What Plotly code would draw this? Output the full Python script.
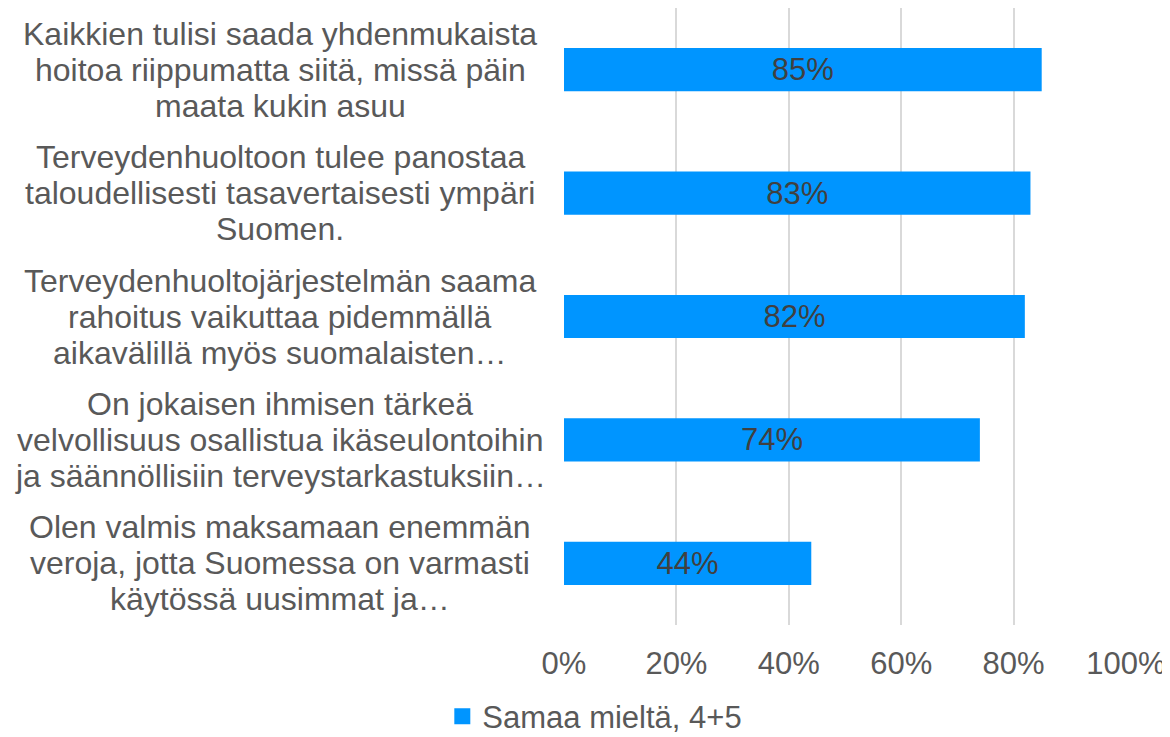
import plotly.graph_objects as go

categories = [
    "Kaikkien tulisi saada yhdenmukaista<br>hoitoa riippumatta siitä, missä päin<br>maata kukin asuu",
    "Terveydenhuoltoon tulee panostaa<br>taloudellisesti tasavertaisesti ympäri<br>Suomen.",
    "Terveydenhuoltojärjestelmän saama<br>rahoitus vaikuttaa pidemmällä<br>aikavälillä myös suomalaisten…",
    "On jokaisen ihmisen tärkeä<br>velvollisuus osallistua ikäseulontoihin<br>ja säännöllisiin terveystarkastuksiin…",
    "Olen valmis maksamaan enemmän<br>veroja, jotta Suomessa on varmasti<br>käytössä uusimmat ja…",
]
values = [0.85, 0.83, 0.82, 0.74, 0.44]
labels = ["85%", "83%", "82%", "74%", "44%"]
series_name = "Samaa mieltä, 4+5"
tick_vals = [0, 0.2, 0.4, 0.6, 0.8, 1.0]
tick_text = ["0%", "20%", "40%", "60%", "80%", "100%"]

FONT = "Liberation Sans, Arial, sans-serif"
BLUE = "#0095FF"
GREY = "#595959"
LINE_H = 36

fig = go.Figure()
fig.add_trace(go.Bar(
    y=categories, x=values, orientation="h", name=series_name,
    marker=dict(color=BLUE, line=dict(width=0)),
    text=labels, textposition="inside", insidetextanchor="middle",
    textfont=dict(family=FONT, size=31, color="#404040"),
    width=0.35, showlegend=False,
))
# legend entry
fig.add_trace(go.Scatter(
    x=[None], y=[None], mode="markers", name=series_name,
    marker=dict(symbol="square", size=16, color=BLUE),
    showlegend=True,
))

for c in categories:
    lines = c.split("<br>")
    n = len(lines)
    for i, ln in enumerate(lines):
        fig.add_annotation(
            x=-0.5053, xref="paper", y=c, yref="y",
            text=ln, showarrow=False, xanchor="center", yanchor="middle",
            yshift=((n - 1) / 2 - i) * LINE_H,
            font=dict(family=FONT, size=32, color=GREY),
        )

fig.update_layout(
    width=1162, height=729,
    margin=dict(l=556, r=44, t=0, b=112),
    paper_bgcolor="white", plot_bgcolor="white",
    font=dict(family=FONT, color=GREY),
    xaxis=dict(range=[0, 1.0], tickvals=tick_vals, ticktext=tick_text,
               showgrid=True, gridcolor="#D9D9D9", gridwidth=2,
               zeroline=False, showline=False, ticks="",
               ticklabelstandoff=17,
               tickfont=dict(family=FONT, size=31, color=GREY)),
    yaxis=dict(autorange="reversed", showticklabels=False, showgrid=False,
               zeroline=False, showline=False, ticks="", categoryorder="array",
               categoryarray=categories),
    legend=dict(orientation="h", x=0.505, xref="container", xanchor="center",
                y=0.028, yref="container", yanchor="middle",
                font=dict(family=FONT, size=31, color=GREY),
                itemwidth=30),
)

fig.write_html("out.html")
